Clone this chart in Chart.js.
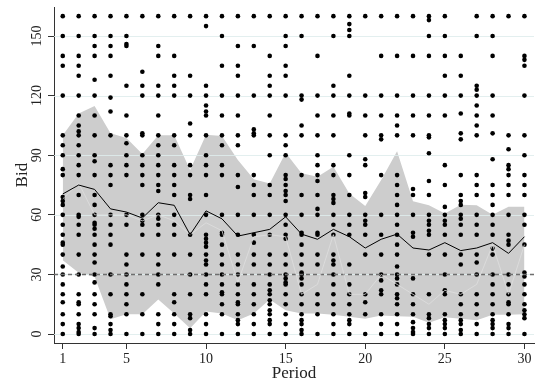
<!DOCTYPE html>
<html>
<head>
<meta charset="utf-8">
<script src="https://cdn.jsdelivr.net/npm/chart.js@4/dist/chart.umd.min.js"></script>
<style>
  html, body { margin: 0; padding: 0; background: #ffffff; }
  #wrap { width: 538px; height: 386px; }
</style>
</head>
<body>
<div id="wrap"><canvas id="c" width="538" height="386"></canvas></div>
<script>
// Periods of the auction experiment
const periods = [1,2,3,4,5,6,7,8,9,10,11,12,13,14,15,16,17,18,19,20,21,22,23,24,25,26,27,28,29,30];

// Individual bids submitted in each period (one list per period)
const bidsByPeriod = [
  [160,150,140,135,120,100,95,90,83,80,69,67,65,60,55,50,46,45,40,34,30,25,20,16,10,5,0],
  [160,150,140,135,130,120,110,105,102,100,95,90,85,80,70,60,59,55,50,40,30,20,16,15,10,5,3,1,0],
  [160,150,145,140,128,120,110,100,90,87,80,70,65,60,56,55,53,50,45,40,36,30,26,20,15,10,3,0],
  [160,150,145,140,130,119,112,100,85,80,75,60,55,50,45,30,20,10,9,5,2,0],
  [160,150,146,145,125,110,100,96,90,85,80,60,55,40,35,30,25,20,15,10,0],
  [160,132,125,120,101,100,90,85,80,75,60,57,55,50,40,20,10,0],
  [160,145,140,125,120,110,100,95,90,85,80,75,72,60,58,55,50,40,35,30,25,10,5,0],
  [160,140,130,125,120,100,95,85,80,75,70,60,55,50,40,20,16,10,5,0],
  [160,130,120,106,100,85,80,70,68,50,40,30,20,10,8,2,0],
  [160,155,125,120,115,112,110,100,90,85,80,70,60,50,48,46,44,40,37,35,30,25,20,10,5,0],
  [160,150,135,120,110,100,95,85,80,60,51,50,45,40,35,30,25,21,20,15,10,0],
  [160,145,135,130,120,110,100,95,80,74,60,50,40,35,30,25,20,16,15,10,7,5,0],
  [160,145,120,103,101,100,80,75,70,60,50,46,40,35,25,20,15,10,5,0],
  [160,140,130,125,120,110,100,90,75,70,60,50,40,35,30,25,22,20,17,15,12,10,7,5,0],
  [160,150,145,135,130,120,100,95,90,80,78,75,72,70,67,60,55,50,48,40,35,30,28,26,25,20,15,10,5,0],
  [160,150,120,118,105,100,80,70,60,51,50,45,40,35,31,30,28,25,20,15,10,7,5,2,0],
  [160,140,120,110,100,90,85,80,77,70,63,60,51,50,40,35,20,15,10,0],
  [160,150,125,120,110,100,85,80,70,68,66,60,55,50,40,37,35,30,25,20,15,10,5,0],
  [160,156,153,150,130,120,111,110,90,80,70,60,55,50,35,25,20,15,10,7,5,0],
  [160,120,110,100,88,85,71,69,60,57,55,50,40,20,16,10,0],
  [160,140,120,110,100,98,80,60,50,40,30,27,22,20,10,5,0],
  [160,140,120,110,105,100,80,75,70,65,60,55,50,45,40,34,30,28,25,20,18,15,10,5,0],
  [160,140,120,110,100,73,70,60,51,49,28,20,15,10,6,3,1,0],
  [160,158,150,140,120,110,100,99,91,77,70,60,57,55,52,50,40,20,10,8,5,3,0],
  [160,150,140,130,120,110,85,75,64,60,57,55,50,40,30,22,20,10,7,5,3,0],
  [140,130,120,111,101,98,80,70,67,65,60,58,55,50,40,35,20,15,10,7,5,2,0],
  [160,150,125,123,120,115,110,105,100,80,75,70,60,55,50,40,36,30,20,15,10,5,0],
  [160,150,140,120,110,101,88,75,70,65,60,55,50,43,40,30,25,20,15,10,7,5,3,0],
  [160,100,93,85,83,80,75,70,60,50,47,45,30,25,20,16,15,10,5,3,0],
  [160,140,138,135,120,100,90,80,75,70,60,55,45,31,29,25,20,15,12,10,8,0]
];

// Average bid per period
const meanBid = [70.5,75,72.8,63,61.4,58.4,66.1,64.8,50,62,58,49.3,51,52.7,59,50.3,47.7,52.7,49,43.3,47.7,50.3,43.3,42.3,46,42,43.3,46,40.6,49];

// Median bid per period
const medianBid = [68,76,60,60,60,57,60,57,50,56,52,26,49,50,49,20,25,50,20,20,30,25,20,15,22,20,25,45,20,45];

// Shaded spread of bids per period (lower and upper edge)
const bandLow  = [37.2,30.9,28.8,7.4,10,10,17.4,10.4,2.9,11.4,10.4,7,10.4,17.4,12,10.4,10.4,9.7,8.7,7.7,9.4,9,8.7,5.7,8.4,7.7,7,9.7,9.7,10];
const bandHigh = [100,111,114.8,101,98.7,90.6,100,100,82.6,100.3,99.7,87.6,77.9,75.8,91.3,80.9,79.2,84.2,70.8,64.4,77.5,92,66.8,64.8,60.7,65.1,64.8,60,64.1,64.1];

// Reference bid level and axis ticks
const referenceBid = 30;
const xTicks = [1,5,10,15,20,25,30];
const yTicks = [0,30,60,90,120,150];

const xMin = 0.45, xMax = 30.6;
const yMin = -4.5, yMax = 164.5;

const serif = "'Liberation Serif', 'DejaVu Serif', serif";

const toXY = (vals) => periods.map((p, i) => ({ x: p, y: vals[i] }));
const bidPoints = [];
periods.forEach((p, i) => bidsByPeriod[i].forEach(b => bidPoints.push({ x: p, y: b })));

// Faint horizontal grid, painted right after the shaded band
const gridAfterBand = {
  id: 'gridAfterBand',
  afterDatasetDraw(chart, args) {
    if (args.index !== 1) return;
    const { ctx, chartArea, scales: { y } } = chart;
    ctx.save();
    ctx.strokeStyle = 'rgba(222,236,236,0.85)';
    ctx.lineWidth = 1;
    yTicks.forEach(v => {
      const py = Math.round(y.getPixelForValue(v)) + 0.5;
      ctx.beginPath();
      ctx.moveTo(chartArea.left, py);
      ctx.lineTo(chartArea.right, py);
      ctx.stroke();
    });
    ctx.restore();
  }
};

// Vertical y tick labels and the y title
const yLabels = {
  id: 'yLabels',
  afterDraw(chart) {
    const { ctx, chartArea, scales: { y } } = chart;
    ctx.save();
    ctx.fillStyle = '#222';
    ctx.textAlign = 'center';
    ctx.textBaseline = 'middle';
    ctx.font = '14px ' + serif;
    yTicks.forEach(v => {
      ctx.save();
      ctx.translate(37, y.getPixelForValue(v));
      ctx.rotate(-Math.PI / 2);
      ctx.fillText(String(v), 0, 0);
      ctx.restore();
    });
    ctx.font = '17px ' + serif;
    ctx.translate(23, (chartArea.top + chartArea.bottom) / 2);
    ctx.rotate(-Math.PI / 2);
    ctx.fillText('Bid', 0, 0);
    ctx.restore();
  }
};

new Chart(document.getElementById('c'), {
  type: 'scatter',
  data: {
    datasets: [
      {
        label: 'low', data: toXY(bandLow), showLine: true, order: 6,
        borderWidth: 0, borderColor: 'rgba(0,0,0,0)', pointRadius: 0, fill: false, tension: 0
      },
      {
        label: 'high', data: toXY(bandHigh), showLine: true, order: 5,
        borderWidth: 0, borderColor: 'rgba(0,0,0,0)', pointRadius: 0,
        fill: '-1', backgroundColor: '#cdcdcd', tension: 0
      },
      {
        label: 'Bids', data: bidPoints, order: 4,
        pointRadius: 2.3, pointBackgroundColor: '#000', pointBorderWidth: 0, pointBorderColor: '#000'
      },
      {
        label: 'reference', data: [{ x: xMin, y: referenceBid }, { x: xMax, y: referenceBid }],
        showLine: true, order: 3, pointRadius: 0, borderColor: '#6e6e6e', borderWidth: 1.4, borderDash: [4, 3]
      },
      {
        label: 'median', data: toXY(medianBid), showLine: true, order: 2,
        pointRadius: 0, borderColor: '#dedede', borderWidth: 0.8, tension: 0
      },
      {
        label: 'mean', data: toXY(meanBid), showLine: true, order: 1,
        pointRadius: 0, borderColor: '#000', borderWidth: 1, tension: 0
      }
    ]
  },
  options: {
    responsive: false,
    animation: false,
    events: [],
    layout: { padding: { top: 7, right: 0, left: 0, bottom: 0 } },
    plugins: { legend: { display: false }, tooltip: { enabled: false } },
    scales: {
      x: {
        type: 'linear', min: xMin, max: xMax,
        afterBuildTicks: s => { s.ticks = xTicks.map(v => ({ value: v })); },
        afterFit: s => { s.height = 43; },
        grid: { drawOnChartArea: false, drawTicks: true, tickLength: 6, tickColor: '#333', color: '#333' },
        border: { display: true, color: '#333', width: 1 },
        ticks: { font: { family: serif, size: 14 }, color: '#222', padding: 2, maxRotation: 0, autoSkip: false },
        title: { display: true, text: 'Period', font: { family: serif, size: 17 }, color: '#222', padding: { top: 0, bottom: 2 } }
      },
      y: {
        min: yMin, max: yMax,
        afterBuildTicks: s => { s.ticks = yTicks.map(v => ({ value: v })); },
        afterFit: s => { s.width = 54; },
        grid: { drawOnChartArea: false, drawTicks: true, tickLength: 6, tickColor: '#333', color: '#333' },
        border: { display: true, color: '#333', width: 1 },
        ticks: { callback: () => '', padding: 0 }
      }
    }
  },
  plugins: [gridAfterBand, yLabels]
});
</script>
</body>
</html>
